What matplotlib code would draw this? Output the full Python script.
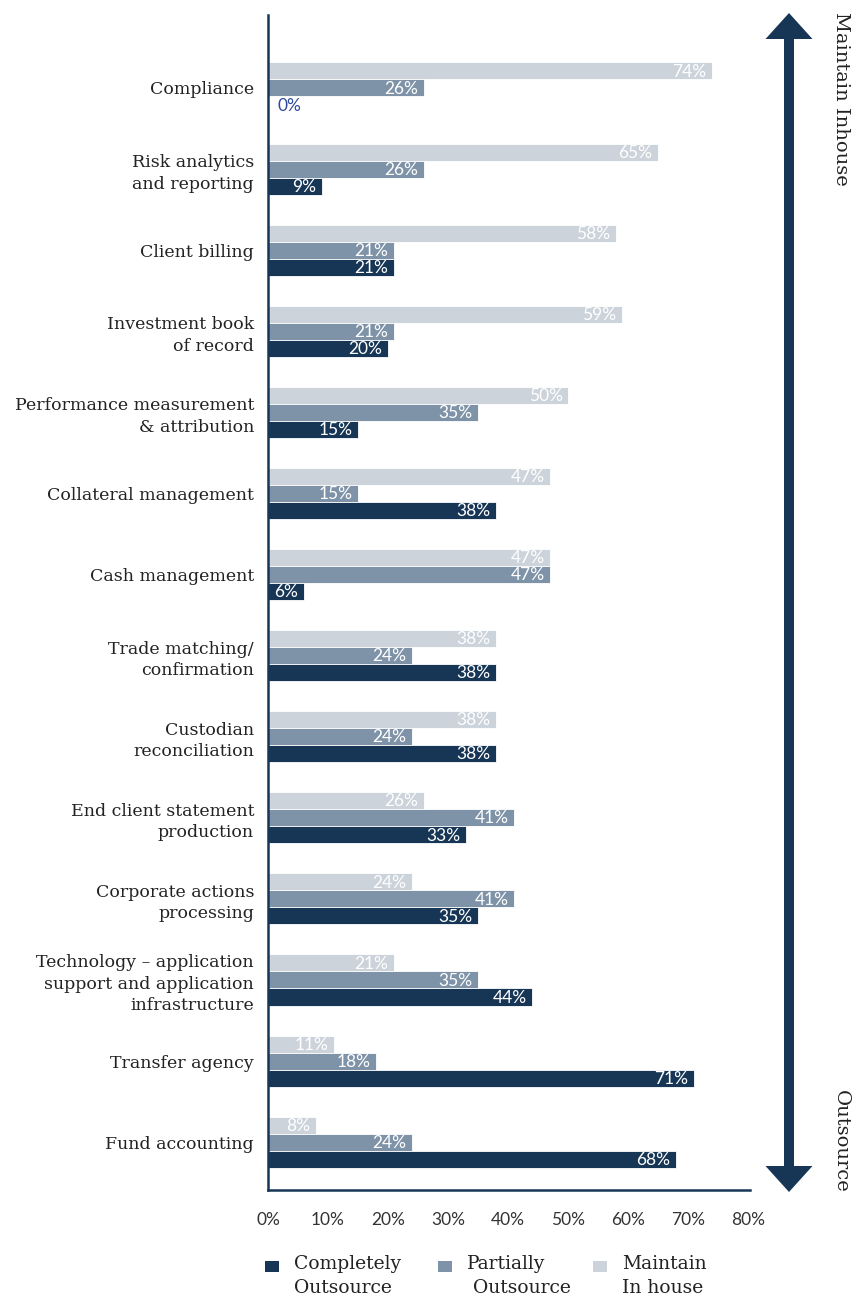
import matplotlib

matplotlib.use("Agg")
import matplotlib.pyplot as plt
import numpy as np
from matplotlib.patches import FancyArrow, Rectangle

categories = [
    "Compliance",
    "Risk analytics\nand reporting",
    "Client billing",
    "Investment book\nof record",
    "Performance measurement\n& attribution",
    "Collateral management",
    "Cash management",
    "Trade matching/\nconfirmation",
    "Custodian\nreconciliation",
    "End client statement\nproduction",
    "Corporate actions\nprocessing",
    "Technology – application\nsupport and application\ninfrastructure",
    "Transfer agency",
    "Fund accounting",
]
maintain_inhouse = [74, 65, 58, 59, 50, 47, 47, 38, 38, 26, 24, 21, 11, 8]
partially_outsource = [26, 26, 21, 21, 35, 15, 47, 24, 24, 41, 41, 35, 18, 24]
completely_outsource = [0, 9, 21, 20, 15, 38, 6, 38, 38, 33, 35, 44, 71, 68]
x_ticks = [0, 10, 20, 30, 40, 50, 60, 70, 80]
legend_labels = ["Completely\nOutsource", "Partially\n Outsource", "Maintain\nIn house"]

DARK = "#173656"
MID = "#7f93a8"
LIGHT = "#ccd3db"
SERIF = "DejaVu Serif"
SANS = "Lato"

W, H = 854, 1302
fig = plt.figure(figsize=(W / 100, H / 100), dpi=100)
ax = fig.add_axes([268 / W, 1 - 1190 / H, 482 / W, 1175 / H])

y = np.arange(len(categories))
h = 0.21
series = [
    (maintain_inhouse, -h, LIGHT),
    (partially_outsource, 0.0, MID),
    (completely_outsource, h, DARK),
]
for values, offset, color in series:
    bars = ax.barh(y + offset, values, height=h, color=color,
                   edgecolor="white", linewidth=0.6)
    for rect, v in zip(bars, values):
        cy = rect.get_y() + rect.get_height() / 2
        if v == 0:
            ax.annotate(f"{v}%", (v, cy), xytext=(7, -1), textcoords="offset points",
                        ha="left", va="center", color="#2e4a9c",
                        fontsize=12.5, family=SANS)
        else:
            ax.annotate(f"{v}%", (v, cy), xytext=(-4, -0.5), textcoords="offset points",
                        ha="right", va="center", color="white",
                        fontsize=12.5, family=SANS)

ax.set_xlim(0, 80.3)
ax.set_ylim(len(categories) - 1 + 0.59, -0.90)
ax.set_yticks(y)
ax.set_yticklabels(categories, family=SERIF, fontsize=12.5, color="#222222",
                   linespacing=1.35)
ax.set_xticks(x_ticks)
ax.set_xticklabels([f"{t}%" for t in x_ticks], family=SANS, fontsize=12.5,
                   color="#333333")
ax.tick_params(axis="both", length=0)
ax.tick_params(axis="y", pad=10)
ax.tick_params(axis="x", pad=16)
for side in ("top", "right"):
    ax.spines[side].set_visible(False)
for side in ("left", "bottom"):
    ax.spines[side].set_color(DARK)
    ax.spines[side].set_linewidth(1.8)

# overlay in pixel units for the direction arrow and the legend
over = fig.add_axes([0, 0, 1, 1], zorder=-1)
over.set_xlim(0, W)
over.set_ylim(H, 0)
over.axis("off")

top_tip, bottom_tip = 13, 1192
mid_y = (top_tip + bottom_tip) / 2
for start, end in ((mid_y + 20, top_tip), (mid_y - 20, bottom_tip)):
    over.add_patch(FancyArrow(789, start, 0, end - start, width=10, head_width=47,
                              head_length=26, length_includes_head=True,
                              color=DARK, linewidth=0))
over.text(841, 12, "Maintain Inhouse", rotation=-90, ha="center", va="top",
          family=SERIF, fontsize=14, color="#222222")
over.text(841, 1193, "Outsource", rotation=-90, ha="center", va="bottom",
          family=SERIF, fontsize=14, color="#222222")

for x0, color, label in zip([265, 438, 593], [DARK, MID, LIGHT], legend_labels):
    over.add_patch(Rectangle((x0, 1261), 14, 11, color=color, linewidth=0))
    over.text(x0 + 29, 1255, label, ha="left", va="top", family=SERIF,
              fontsize=13.5, color="#222222", linespacing=1.4)

fig.savefig("out.png", dpi=100)
